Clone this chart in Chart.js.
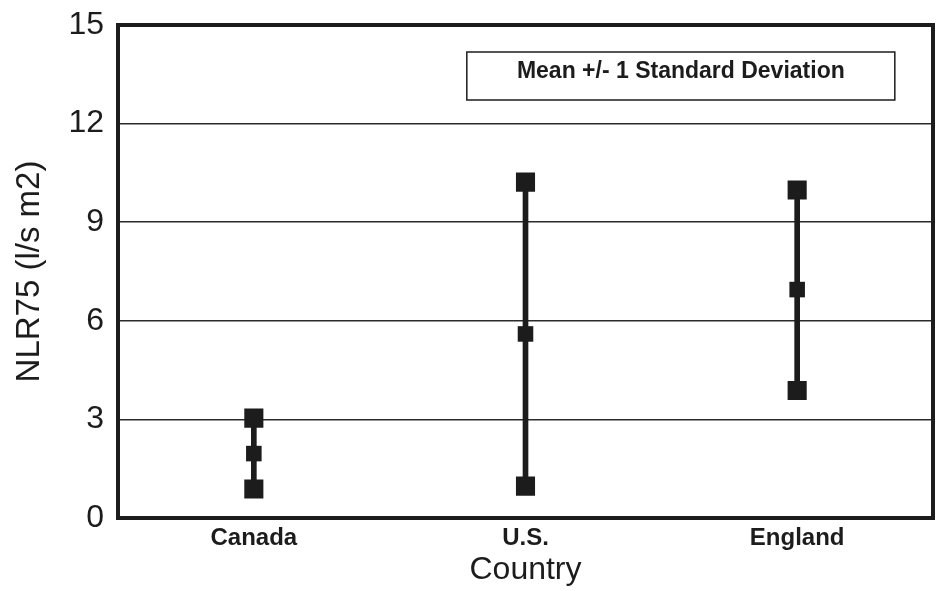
<!DOCTYPE html>
<html>
<head>
<meta charset="utf-8">
<script src="https://cdn.jsdelivr.net/npm/chart.js@4"></script>
<style>
  html, body { margin: 0; padding: 0; background: #fff; }
  #wrap { width: 937px; height: 591px; }
</style>
</head>
<body>
<div id="wrap"><canvas id="nlrChart" width="937" height="591"></canvas></div>
<script>
// NLR75 by country, mean +/- 1 standard deviation
const categories = ['Canada', 'U.S.', 'England'];
const meanValues = [1.96, 5.6, 6.95];
const lowValues = [0.88, 0.97, 3.88];
const highValues = [3.04, 10.22, 9.98];
const yTicks = [0, 3, 6, 9, 12, 15];
const legendText = 'Mean +/- 1 Standard Deviation';

const ink = '#1c1c1c';
const font = "'Liberation Sans', Arial, sans-serif";

// frame around the plot plus the legend box in the upper right
const framePlugin = {
    id: 'frame',
    afterDraw(chart) {
        const { ctx, chartArea: a } = chart;
        ctx.save();
        ctx.strokeStyle = ink;
        ctx.lineWidth = 4;
        ctx.strokeRect(a.left, a.top, a.right - a.left, a.bottom - a.top);

        const bx = a.left + (a.right - a.left) * 0.428;
        const by = a.top + 27;
        const bw = 428;
        const bh = 48;
        ctx.lineWidth = 1.5;
        ctx.fillStyle = '#fff';
        ctx.fillRect(bx, by, bw, bh);
        ctx.strokeRect(bx, by, bw, bh);
        ctx.fillStyle = ink;
        ctx.font = 'bold 23px ' + font;
        ctx.textAlign = 'center';
        ctx.textBaseline = 'middle';
        ctx.fillText(legendText, bx + bw / 2, by + 20);
        ctx.restore();
    }
};

const ctx = document.getElementById('nlrChart');

new Chart(ctx, {
    type: 'bar',
    data: {
        labels: categories,
        datasets: [
            {
                label: 'range',
                data: categories.map((c, i) => [lowValues[i], highValues[i]]),
                backgroundColor: ink,
                barThickness: 5,
                borderWidth: 0,
                order: 3
            },
            {
                type: 'line',
                label: 'high',
                data: highValues,
                showLine: false,
                pointStyle: 'rect',
                pointRadius: 13.5,
                pointBackgroundColor: ink,
                pointBorderColor: ink,
                pointBorderWidth: 0,
                order: 1
            },
            {
                type: 'line',
                label: 'low',
                data: lowValues,
                showLine: false,
                pointStyle: 'rect',
                pointRadius: 13.5,
                pointBackgroundColor: ink,
                pointBorderColor: ink,
                pointBorderWidth: 0,
                order: 1
            },
            {
                type: 'line',
                label: 'mean',
                data: meanValues,
                showLine: false,
                pointStyle: 'rect',
                pointRadius: 11,
                pointBackgroundColor: ink,
                pointBorderColor: ink,
                pointBorderWidth: 0,
                order: 1
            }
        ]
    },
    options: {
        responsive: false,
        animation: false,
        layout: {
            autoPadding: false,
            padding: { top: 25, right: 4, left: 0, bottom: 0 }
        },
        plugins: {
            legend: { display: false },
            tooltip: { enabled: false }
        },
        scales: {
            x: {
                offset: true,
                afterFit: (scale) => {
                    scale.height = 73;
                    scale.paddingLeft = 0;
                    scale.paddingRight = 0;
                },
                grid: { display: false, drawTicks: false },
                border: { display: false },
                ticks: {
                    color: ink,
                    padding: 6,
                    font: { size: 24, weight: 'bold', family: font }
                },
                title: {
                    display: true,
                    text: 'Country',
                    color: ink,
                    padding: { top: 0, bottom: 2 },
                    font: { size: 32, family: font }
                }
            },
            y: {
                min: 0,
                max: 15,
                afterFit: (scale) => {
                    scale.width = 118;
                    scale.paddingTop = 0;
                    scale.paddingBottom = 0;
                },
                afterBuildTicks: (scale) => {
                    scale.ticks = yTicks.map(v => ({ value: v }));
                },
                grid: {
                    color: '#2a2a2a',
                    lineWidth: 1.5,
                    drawTicks: false
                },
                border: { display: false },
                ticks: {
                    color: ink,
                    padding: 14,
                    font: { size: 32, family: font }
                },
                title: {
                    display: true,
                    text: 'NLR75 (l/s m2)',
                    color: ink,
                    padding: { top: 10, bottom: 0 },
                    font: { size: 33, family: font }
                }
            }
        }
    },
    plugins: [framePlugin]
});
</script>
</body>
</html>
